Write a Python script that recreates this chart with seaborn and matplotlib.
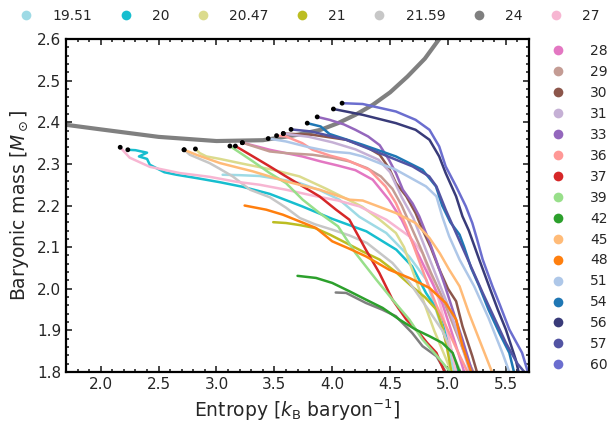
import numpy as np
import pandas as pd
import matplotlib
matplotlib.use("Agg")
import matplotlib.pyplot as plt
from matplotlib.lines import Line2D
from matplotlib.ticker import MultipleLocator
import seaborn as sns

# ---------------- data ----------------
labels = ["19.51", "20", "20.47", "21", "21.59", "24", "27", "28", "29", "30", "31",
          "33", "36", "37", "39", "42", "45", "48", "51", "54", "56", "57", "60"]

entropy_1951 = [3.053, 3.20, 3.372, 3.55, 3.717, 3.9, 4.062, 4.234, 4.467, 4.666, 4.812, 4.924, 4.99, 5.053]
mass_1951 = [2.274, 2.273, 2.271, 2.263, 2.254, 2.236, 2.214, 2.173, 2.134, 2.077, 2.022, 1.926, 1.87, 1.801]

entropy_20 = [2.234, 2.30, 2.40, 2.33, 2.40, 2.424, 2.55, 2.654, 2.827, 3.03, 3.226, 3.46, 3.74, 4.0, 4.295, 4.553, 4.69, 4.81, 4.95, 5.08]
mass_20 = [2.334, 2.333, 2.327, 2.318, 2.312, 2.298, 2.28, 2.274, 2.266, 2.256, 2.245, 2.228, 2.198, 2.168, 2.138, 2.094, 2.054, 1.99, 1.93, 1.80]

entropy_2047 = [2.818, 2.855, 2.913, 3.03, 3.2, 3.485, 3.717, 3.95, 4.26, 4.41, 4.55, 4.62, 4.75, 4.88, 5.03]
mass_2047 = [2.336, 2.326, 2.318, 2.312, 2.302, 2.286, 2.270, 2.24, 2.197, 2.166, 2.134, 2.10, 2.0, 1.90, 1.80]

entropy_21 = [3.49, 3.6, 3.72, 3.85, 3.98, 4.12, 4.26, 4.41, 4.55, 4.69, 4.8, 4.9, 4.95, 4.99, 5.03]
mass_21 = [2.16, 2.158, 2.153, 2.146, 2.13, 2.11, 2.09, 2.07, 2.04, 2.005, 1.98, 1.95, 1.91, 1.86, 1.80]

entropy_2159 = [2.72, 2.77, 2.94, 3.03, 3.14, 3.29, 3.46, 3.6, 3.72, 3.85, 4.0, 4.15, 4.3, 4.52, 4.67, 4.81, 4.95, 5.1]
mass_2159 = [2.334, 2.322, 2.302, 2.288, 2.27, 2.238, 2.22, 2.195, 2.17, 2.155, 2.142, 2.128, 2.11, 2.062, 2.014, 1.958, 1.90, 1.806]

entropy_24 = [4.03, 4.12, 4.29, 4.43, 4.55, 4.69, 4.78, 4.9, 4.98]
mass_24 = [1.991, 1.99, 1.966, 1.95, 1.934, 1.894, 1.862, 1.838, 1.80]

entropy_27 = [2.168, 2.25, 2.424, 2.683, 2.941, 3.174, 3.372, 3.6, 3.83, 4.05, 4.234, 4.467, 4.666, 4.78, 4.92, 5.01, 5.07]
mass_27 = [2.340, 2.315, 2.293, 2.278, 2.269, 2.257, 2.250, 2.238, 2.224, 2.212, 2.198, 2.166, 2.126, 2.086, 1.974, 1.878, 1.80]

entropy_28 = [3.223, 3.35, 3.46, 3.6, 3.74, 3.9, 4.05, 4.2, 4.35, 4.49, 4.6, 4.68, 4.8, 4.95, 5.05, 5.14]
mass_28 = [2.351, 2.342, 2.334, 2.326, 2.318, 2.306, 2.296, 2.285, 2.262, 2.214, 2.166, 2.12, 2.05, 1.966, 1.88, 1.80]

entropy_29 = [3.223, 3.46, 3.6, 3.83, 4.0, 4.15, 4.3, 4.42, 4.52, 4.6, 4.68, 4.76, 4.85, 4.95, 5.05, 5.15, 5.22]
mass_29 = [2.351, 2.33, 2.326, 2.322, 2.315, 2.306, 2.29, 2.27, 2.24, 2.20, 2.15, 2.1, 2.04, 1.98, 1.91, 1.84, 1.80]

entropy_30 = [3.577, 3.83, 4.12, 4.3, 4.41, 4.49, 4.55, 4.64, 4.72, 4.78, 4.85, 4.92, 5.0, 5.07, 5.125, 5.21, 5.25]
mass_30 = [2.373, 2.37, 2.358, 2.34, 2.322, 2.29, 2.254, 2.222, 2.182, 2.142, 2.1, 2.05, 2.0, 1.97, 1.91, 1.838, 1.80]

entropy_31 = [3.577, 3.8, 4.0, 4.2, 4.4, 4.5, 4.6, 4.7, 4.8, 4.9, 5.0, 5.1, 5.19]
mass_31 = [2.373, 2.365, 2.352, 2.335, 2.31, 2.28, 2.22, 2.17, 2.10, 2.03, 1.96, 1.88, 1.80]

entropy_33 = [3.87, 3.976, 4.1, 4.2, 4.31, 4.41, 4.49, 4.55, 4.61, 4.694, 4.752, 4.83, 4.896, 4.97, 5.04, 5.125, 5.21]
mass_33 = [2.413, 2.406, 2.395, 2.382, 2.366, 2.345, 2.31, 2.278, 2.238, 2.205, 2.174, 2.12, 2.07, 2.01, 1.95, 1.878, 1.80]

entropy_36 = [3.519, 3.6, 3.74, 3.83, 3.98, 4.12, 4.32, 4.46, 4.55, 4.64, 4.72, 4.8, 4.9, 5.0, 5.1, 5.17]
mass_36 = [2.368, 2.366, 2.35, 2.334, 2.32, 2.31, 2.286, 2.246, 2.206, 2.15, 2.09, 2.03, 1.96, 1.90, 1.84, 1.80]

entropy_37 = [3.163, 3.315, 3.46, 3.6, 3.745, 3.89, 4.033, 4.148, 4.29, 4.407, 4.52, 4.64, 4.75, 4.82, 4.9, 4.97]
mass_37 = [2.343, 2.318, 2.294, 2.27, 2.246, 2.222, 2.19, 2.166, 2.094, 2.038, 1.974, 1.926, 1.894, 1.87, 1.846, 1.80]

entropy_39 = [3.116, 3.315, 3.46, 3.6, 3.745, 3.89, 4.05, 4.2, 4.38, 4.52, 4.666, 4.78, 4.9, 5.02]
mass_39 = [2.343, 2.306, 2.278, 2.254, 2.214, 2.182, 2.15, 2.086, 2.022, 1.974, 1.926, 1.878, 1.84, 1.80]

entropy_42 = [3.7, 3.86, 4.0, 4.148, 4.29, 4.435, 4.58, 4.72, 4.84, 4.95, 5.04, 5.1]
mass_42 = [2.031, 2.026, 2.014, 1.994, 1.974, 1.954, 1.926, 1.902, 1.886, 1.87, 1.846, 1.80]

entropy_45 = [2.72, 2.826, 3.03, 3.315, 3.6, 3.89, 4.15, 4.263, 4.55, 4.72, 4.84, 4.93, 5.01, 5.1, 5.18, 5.27, 5.38]
mass_45 = [2.334, 2.322, 2.302, 2.282, 2.258, 2.238, 2.214, 2.212, 2.182, 2.158, 2.122, 2.085, 2.046, 2.006, 1.942, 1.878, 1.80]

entropy_48 = [3.243, 3.43, 3.573, 3.717, 3.86, 4.0, 4.15, 4.29, 4.49, 4.666, 4.84, 4.98, 5.07, 5.125, 5.2]
mass_48 = [2.2, 2.19, 2.178, 2.162, 2.146, 2.114, 2.096, 2.078, 2.046, 2.026, 2.002, 1.966, 1.926, 1.862, 1.80]

entropy_51 = [3.447, 3.6, 3.8, 3.976, 4.15, 4.263, 4.55, 4.81, 4.9, 4.95, 5.01, 5.1, 5.226, 5.35, 5.47, 5.53]
mass_51 = [2.361, 2.354, 2.34, 2.33, 2.326, 2.318, 2.286, 2.246, 2.222, 2.174, 2.126, 2.07, 2.006, 1.93, 1.846, 1.80]

entropy_54 = [3.784, 3.9, 3.976, 4.263, 4.55, 4.78, 4.896, 4.95, 5.02, 5.1, 5.14, 5.2, 5.27, 5.35, 5.45, 5.53, 5.57]
mass_54 = [2.398, 2.39, 2.372, 2.346, 2.318, 2.286, 2.246, 2.20, 2.16, 2.13, 2.10, 2.05, 2.006, 1.95, 1.89, 1.846, 1.80]

entropy_56 = [4.01, 4.263, 4.55, 4.72, 4.84, 4.924, 4.98, 5.07, 5.125, 5.18, 5.27, 5.355, 5.43, 5.5, 5.585, 5.61]
mass_56 = [2.432, 2.418, 2.398, 2.382, 2.358, 2.318, 2.278, 2.222, 2.174, 2.14, 2.07, 2.006, 1.95, 1.902, 1.83, 1.80]

entropy_57 = [3.644, 3.818, 4.12, 4.41, 4.694, 4.838, 4.9, 4.98, 5.06, 5.14, 5.22, 5.3, 5.4, 5.5, 5.6, 5.66]
mass_57 = [2.383, 2.378, 2.358, 2.326, 2.294, 2.27, 2.246, 2.19, 2.14, 2.09, 2.04, 1.99, 1.93, 1.87, 1.82, 1.80]

entropy_60 = [4.085, 4.263, 4.55, 4.72, 4.84, 4.924, 4.98, 5.07, 5.154, 5.21, 5.25, 5.3, 5.384, 5.45, 5.53, 5.64, 5.69]
mass_60 = [2.446, 2.444, 2.426, 2.406, 2.382, 2.342, 2.294, 2.246, 2.198, 2.158, 2.12, 2.07, 2.006, 1.96, 1.902, 1.846, 1.80]

# thick gray curve
boundary_entropy = [1.7, 2.0, 2.5, 3.0, 3.4, 3.7, 3.9, 4.05, 4.2, 4.35, 4.5, 4.65, 4.8, 4.95]
boundary_mass = [2.394, 2.383, 2.365, 2.355, 2.357, 2.370, 2.382, 2.398, 2.418, 2.442, 2.472, 2.51, 2.553, 2.61]

# series whose first point is marked with a black dot
marked = ["20", "20.47", "21.59", "27", "28", "29", "30", "31", "33", "36", "37", "39",
          "45", "51", "54", "56", "57", "60"]

series_entropy = [entropy_1951, entropy_20, entropy_2047, entropy_21, entropy_2159, entropy_24,
                  entropy_27, entropy_28, entropy_29, entropy_30, entropy_31, entropy_33,
                  entropy_36, entropy_37, entropy_39, entropy_42, entropy_45, entropy_48,
                  entropy_51, entropy_54, entropy_56, entropy_57, entropy_60]
series_mass = [mass_1951, mass_20, mass_2047, mass_21, mass_2159, mass_24,
               mass_27, mass_28, mass_29, mass_30, mass_31, mass_33,
               mass_36, mass_37, mass_39, mass_42, mass_45, mass_48,
               mass_51, mass_54, mass_56, mass_57, mass_60]

# ---------------- style ----------------
sns.set_style("ticks")
plt.rcParams['font.family'] = ['DejaVu Sans']
plt.rcParams['mathtext.fontset'] = 'dejavusans'

colors = list(sns.color_palette("tab20"))[::-1] + list(sns.color_palette("tab20b"))[:3]
palette = dict(zip(labels, colors))

rows = []
for lab, xs, ys in zip(labels, series_entropy, series_mass):
    for i, (xv, yv) in enumerate(zip(xs, ys)):
        rows.append((lab, i, xv, yv))
df = pd.DataFrame(rows, columns=["label", "step", "entropy", "mass"])
bdf = pd.DataFrame({"entropy": boundary_entropy, "mass": boundary_mass})
starts = df[(df["step"] == 0) & (df["label"].isin(marked))]

fig = plt.figure(figsize=(6.13, 4.23), dpi=100)
ax = fig.add_axes([0.1077, 0.1206, 0.7553, 0.787])

sns.lineplot(data=bdf, x="entropy", y="mass", color="#808080", lw=3.0,
             sort=False, estimator=None, ax=ax, zorder=1)
sns.lineplot(data=df, x="entropy", y="mass", hue="label", hue_order=labels,
             palette=palette, sort=False, estimator=None, units="label",
             lw=1.8, legend=False, ax=ax, zorder=2)
sns.scatterplot(data=starts, x="entropy", y="mass", color="black", s=12,
                edgecolor="none", ax=ax, zorder=5)

ax.set_xlim(1.7, 5.7)
ax.set_ylim(1.8, 2.6)
ax.xaxis.set_major_locator(MultipleLocator(0.5))
ax.xaxis.set_minor_locator(MultipleLocator(0.1))
ax.yaxis.set_major_locator(MultipleLocator(0.1))
ax.yaxis.set_minor_locator(MultipleLocator(0.02))
ax.tick_params(which="both", direction="in", top=True, right=True, labelsize=11, width=1.2)
ax.tick_params(which="major", length=4.5)
ax.tick_params(which="minor", length=2.2)
for sp in ax.spines.values():
    sp.set_linewidth(1.6)
    sp.set_color("black")

ax.set_xlabel(r"Entropy [$k_{\rm B}$ baryon$^{-1}$]", fontsize=13.5)
ax.set_ylabel(r"Baryonic mass [$M_\odot$]", fontsize=13.5)

handles = [Line2D([], [], marker="o", ls="", color=palette[l], markersize=7, markeredgewidth=0)
           for l in labels]
fig.legend(handles[:7], labels[:7], loc="center", bbox_to_anchor=(0.505, 0.962), ncol=7,
           frameon=False, fontsize=10, handlelength=1.0, handletextpad=1.4,
           columnspacing=1.9, borderpad=0)
fig.legend(handles[7:], labels[7:], loc="center left", bbox_to_anchor=(0.888, 0.508),
           frameon=False, fontsize=10, handlelength=1.0, handletextpad=1.8,
           labelspacing=0.5, borderpad=0)

fig.savefig("out.png", dpi=100)
